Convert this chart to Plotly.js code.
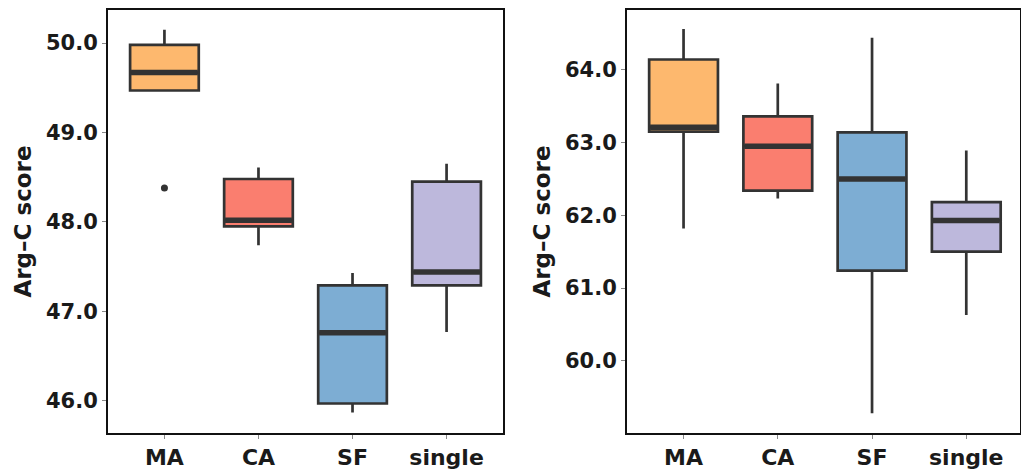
<!DOCTYPE html>
<html>
<head>
<meta charset="utf-8">
<script src="https://cdn.plot.ly/plotly-3.0.1.min.js"></script>
<style>html,body{margin:0;padding:0;background:#fff;}#chart{width:1021px;height:469px;}</style>
</head>
<body>
<div id="chart"></div>
<script>
// ---- data ----
var groups = ['MA', 'CA', 'SF', 'single'];
var boxColors = ['#FDB86E', '#FA7E6F', '#7DADD3', '#BDB8DC'];

// Left panel
var leftLower  = [49.47, 47.74, 45.87, 46.77];
var leftQ1     = [49.47, 47.95, 45.97, 47.29];
var leftMedian = [49.67, 48.02, 46.76, 47.44];
var leftQ3     = [49.98, 48.48, 47.29, 48.45];
var leftUpper  = [50.15, 48.61, 47.43, 48.65];
var leftOutlierGroup = ['MA'];
var leftOutlierValue = [48.38];

// Right panel
var rightLower  = [61.82, 62.23, 59.28, 60.63];
var rightQ1     = [63.15, 62.34, 61.24, 61.50];
var rightMedian = [63.21, 62.95, 62.50, 61.93];
var rightQ3     = [64.14, 63.36, 63.14, 62.18];
var rightUpper  = [64.56, 63.81, 64.44, 62.89];

var yTitle = 'Arg\u2013C score';
var leftTicks = [46, 47, 48, 49, 50];
var rightTicks = [60, 61, 62, 63, 64];

// ---- build ----
var LINE = '#333333';
var BOXW = 0.73;
var traces = [];
function addPanel(xa, ya, lower, q1, med, q3, upper) {
  for (var i = 0; i < groups.length; i++) {
    traces.push({
      type: 'box', xaxis: xa, yaxis: ya,
      x: [groups[i]], q1: [q1[i]], median: [med[i]], q3: [q3[i]],
      lowerfence: [lower[i]], upperfence: [upper[i]],
      fillcolor: boxColors[i], line: {color: LINE, width: 2.7},
      whiskerwidth: 0, width: BOXW, boxpoints: false, showlegend: false, hoverinfo: 'skip'
    });
  }
  // thick median bars
  traces.push({
    type: 'box', xaxis: xa, yaxis: ya,
    x: groups, q1: med, median: med, q3: med, lowerfence: med, upperfence: med,
    fillcolor: 'rgba(0,0,0,0)', line: {color: LINE, width: 5.5},
    whiskerwidth: 0, width: BOXW - 0.02, boxpoints: false, showlegend: false, hoverinfo: 'skip'
  });
}
addPanel('x', 'y', leftLower, leftQ1, leftMedian, leftQ3, leftUpper);
addPanel('x2', 'y2', rightLower, rightQ1, rightMedian, rightQ3, rightUpper);
traces.push({
  type: 'scatter', mode: 'markers', xaxis: 'x', yaxis: 'y',
  x: leftOutlierGroup, y: leftOutlierValue,
  marker: {color: LINE, size: 7}, showlegend: false, hoverinfo: 'skip'
});

var FONT = 'DejaVu Sans, Liberation Sans, Arial, sans-serif';
function xaxisCfg(domain) {
  return {
    domain: domain, type: 'category', categoryorder: 'array', categoryarray: groups,
    range: [-0.6, 3.6], showline: true, linecolor: '#111', linewidth: 2, mirror: true,
    ticks: 'outside', ticklen: 4, tickwidth: 1, tickcolor: '#888',
    tickfont: {family: FONT, size: 22, color: '#1a1a1a', weight: 'bold'},
    showgrid: false, zeroline: false, fixedrange: true
  };
}
function yaxisCfg(range, ticks) {
  return {
    domain: [36/469, 459/469], range: range, tickvals: ticks, tickformat: '.1f',
    showline: true, linecolor: '#111', linewidth: 2, mirror: true,
    ticks: 'outside', ticklen: 4, tickwidth: 1, tickcolor: '#888',
    tickfont: {family: FONT, size: 21, color: '#1a1a1a', weight: 'bold'},
    title: {text: yTitle, font: {family: FONT, size: 23, color: '#1a1a1a', weight: 'bold'}, standoff: 8},
    showgrid: false, zeroline: false, fixedrange: true
  };
}
var xa1 = xaxisCfg([108/1021, 503/1021]);
var xa2 = xaxisCfg([627/1021, 1020/1021]);
xa2.range = [-0.6, 3.57];
xa2.anchor = 'y2';
var ya1 = yaxisCfg([45.64, 50.37], leftTicks);
var ya2 = yaxisCfg([59.01, 64.82], rightTicks);
ya2.anchor = 'x2';

var layout = {
  width: 1021, height: 469,
  margin: {l: 0, r: 0, t: 0, b: 0},
  paper_bgcolor: '#ffffff', plot_bgcolor: '#ffffff',
  boxmode: 'overlay', showlegend: false,
  xaxis: xa1, yaxis: ya1, xaxis2: xa2, yaxis2: ya2
};
Plotly.newPlot('chart', traces, layout, {displayModeBar: false, staticPlot: true});
</script>
</body>
</html>
